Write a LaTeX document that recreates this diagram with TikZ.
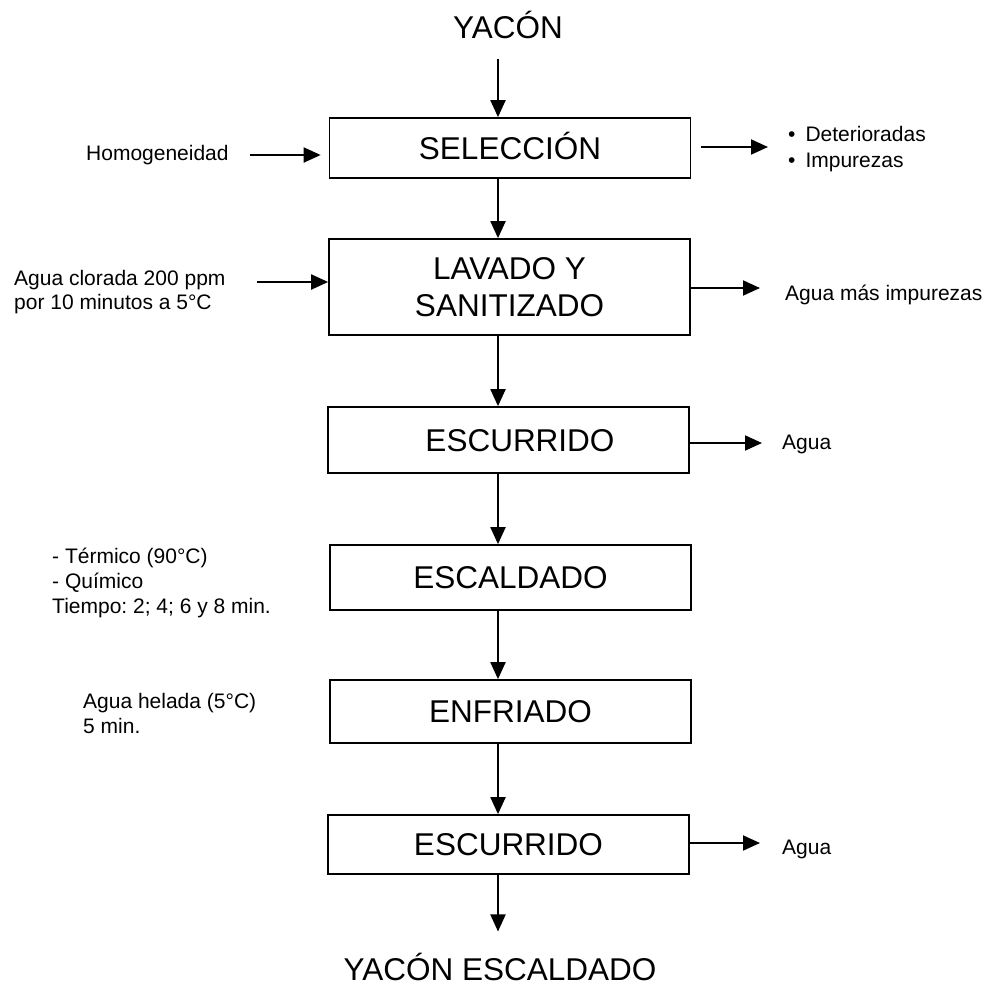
\documentclass[tikz,border=0pt]{standalone}
\usepackage{fontspec}
\setmainfont{Liberation Sans}
\frenchspacing
\usetikzlibrary{arrows.meta,calc}
\begin{document}
\begin{tikzpicture}[x=1pt,y=-1pt,
  stage/.style={draw,line width=1.7pt,minimum width=361pt,inner sep=0pt,
    font=\fontsize{31.5}{37}\selectfont,text height=22pt,text depth=0pt,align=center},
  big/.style={font=\fontsize{31.5}{37}\selectfont,inner sep=0pt,anchor=base},
  note/.style={font=\fontsize{21}{25}\selectfont,inner sep=0pt,anchor=base west,align=left},
  flow/.style={line width=2pt,-{Triangle[length=17pt,width=15pt]}}]
\useasboundingbox (0,0) rectangle (989,985);

% process stages
\node[big] (yacon) at (508,38) {YACÓN};
\node[stage,minimum height=60pt] (sel) at (510,148) {SELECCIÓN};
\node[stage,minimum height=96pt,text height=59pt] (lav) at (509.5,287) {LAVADO Y\\SANITIZADO};
\node[stage,minimum height=66pt] (esc1) at (508.5,440) {\hspace*{23pt}ESCURRIDO};
\node[stage,minimum height=65pt] (escal) at (510.5,577.5) {ESCALDADO};
\node[stage,minimum height=63pt] (enf) at (510.5,711.5) {ENFRIADO};
\node[stage,minimum height=59pt] (esc2) at (508.5,844.5) {ESCURRIDO};
\node[big] (final) at (500,980) {YACÓN ESCALDADO};

% inputs and outputs (multi-line notes are anchored on their last line)
\node[note] (homog) at (86,160) {Homogeneidad};
\node[note,font=\fontsize{21}{26}\selectfont] (rejects) at (788,167)
  {\textbullet\hspace{10pt}Deterioradas\\\textbullet\hspace{10pt}Impurezas};
\node[note,font=\fontsize{21}{24}\selectfont] (chlor) at (14,309)
  {Agua clorada 200 ppm\\por 10 minutos a 5°C};
\node[note] (wash) at (785,300) {Agua más impurezas};
\node[note] (drain1) at (782,449) {Agua};
\node[note] (blanch) at (52,613) {- Térmico (90°C)\\- Químico\\Tiempo: 2; 4; 6 y 8 min.};
\node[note] (chill) at (83,733) {Agua helada (5°C)\\5 min.};
\node[note] (drain2) at (782,854) {Agua};

% main flow line
\coordinate (axis) at (498,0);
\draw[flow,shorten <=20pt] (yacon.south -| axis) -- (sel.north -| axis);
\draw[flow] (sel.south -| axis) -- (lav.north -| axis);
\draw[flow] (lav.south -| axis) -- (esc1.north -| axis);
\draw[flow] (esc1.south -| axis) -- (escal.north -| axis);
\draw[flow] (escal.south -| axis) -- (enf.north -| axis);
\draw[flow] (enf.south -| axis) -- (esc2.north -| axis);
\draw[flow,shorten >=21pt] (esc2.south -| axis) -- (final.north -| axis);

% side streams
\coordinate (homogEnd) at (250,155);
\draw[flow,shorten >=8pt] (homogEnd) -- (homogEnd -| sel.west);
\coordinate (selOut) at (768,147);
\draw[flow,shorten <=10pt] (selOut -| sel.east) -- (selOut);
\coordinate (chlorEnd) at (257,282);
\draw[flow] (chlorEnd) -- (chlorEnd -| lav.west);
\coordinate (lavOut) at (760,288);
\draw[flow] (lavOut -| lav.east) -- (lavOut);
\coordinate (esc1Out) at (762,443);
\draw[flow] (esc1Out -| esc1.east) -- (esc1Out);
\coordinate (esc2Out) at (760,843);
\draw[flow] (esc2Out -| esc2.east) -- (esc2Out);
\end{tikzpicture}
\end{document}
